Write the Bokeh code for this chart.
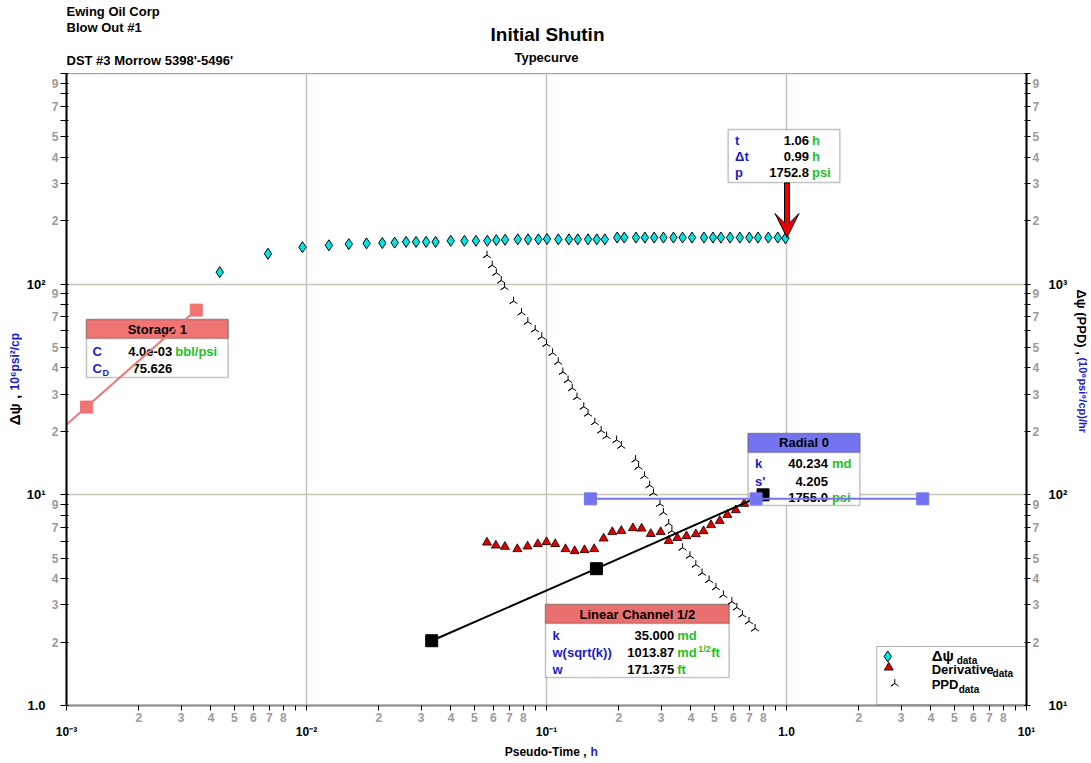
import math
from bokeh.plotting import figure
from bokeh.layouts import column, row
from bokeh.models import (Range1d, LogScale, LogAxis, FixedTicker, CustomJSTickFormatter,
                          BoxAnnotation, Label, Arrow, VeeHead)
from bokeh.embed import file_html
from bokeh.resources import INLINE

# ---------------- data ----------------
t_dpsi = [0.00435, 0.00691, 0.00962, 0.0124, 0.0150, 0.0178, 0.0207, 0.0233, 0.0260, 0.0286,
          0.0315, 0.0345, 0.0399, 0.0455, 0.0508, 0.0567, 0.0618, 0.0672, 0.0759, 0.0838,
          0.0925, 0.1005, 0.112, 0.124, 0.135, 0.149, 0.162, 0.175, 0.197, 0.211,
          0.236, 0.257, 0.281, 0.307, 0.338, 0.369, 0.404, 0.453, 0.494, 0.533,
          0.582, 0.639, 0.700, 0.761, 0.840, 0.920, 0.99]
dpsi = [114.0, 139.4, 149.9, 153.0, 154.9, 156.1, 156.8, 157.5, 158.7, 158.7,
        158.7, 158.7, 160.6, 160.6, 160.6, 160.6, 161.8, 162.5, 163.2, 163.2,
        163.2, 163.9, 163.2, 163.2, 163.2, 163.2, 163.2, 163.2, 166.4, 166.4,
        166.4, 166.4, 166.4, 166.4, 166.4, 166.4, 166.4, 166.4, 166.4, 166.4,
        166.4, 166.4, 166.4, 166.4, 166.4, 166.4, 165.2]

t_der = [0.0565, 0.0615, 0.0671, 0.0756, 0.0834, 0.0920, 0.100, 0.1087, 0.120, 0.131,
         0.144, 0.158, 0.173, 0.188, 0.205, 0.229, 0.249, 0.272, 0.299, 0.323,
         0.351, 0.383, 0.419, 0.451, 0.485, 0.527, 0.567, 0.615, 0.666]
der = [5.94, 5.75, 5.67, 5.53, 5.69, 5.84, 5.97, 5.84, 5.53, 5.41,
       5.47, 5.53, 6.21, 6.66, 6.75, 6.95, 6.92, 6.53, 6.66, 6.05,
       6.25, 6.37, 6.51, 6.73, 7.19, 7.53, 8.04, 8.46, 9.07]

t_ppd = [0.0565, 0.0594, 0.0618, 0.0648, 0.0669, 0.0729, 0.0787, 0.0836, 0.0897, 0.0956,
         0.100, 0.106, 0.112, 0.117, 0.123, 0.128, 0.134, 0.143, 0.149, 0.159,
         0.169, 0.178, 0.196, 0.205, 0.235, 0.242, 0.256, 0.269, 0.279, 0.297,
         0.307, 0.323, 0.333, 0.350, 0.369, 0.396, 0.419, 0.445, 0.476, 0.508,
         0.546, 0.592, 0.621, 0.655, 0.698, 0.740]
ppd = [1372, 1230, 1131, 1041, 968, 831, 734, 663, 610, 563,
       520, 472, 428, 383, 351, 321, 291, 262, 243, 221,
       202, 190, 182, 171, 147, 136, 123, 111, 102, 90.6,
       82.5, 73.1, 67.5, 63.0, 56.1, 51.4, 46.6, 42.6, 39.4, 36.4,
       33.5, 31.1, 29.2, 27.0, 25.1, 23.2]

t_storage = [0.001, 0.001211, 0.003472]
v_storage = [21.55, 26.1, 75.3]
t_linear = [0.03324, 0.1614, 0.7985]
v_linear = [2.03, 4.46, 10.0]
t_radial = [0.1524, 0.7467, 3.695]
v_radial = [9.57, 9.57, 9.57]

x_decades = [0.001, 0.01, 0.1, 1.0, 10.0]
x_decade_labels = ["10\u207b\u00b3", "10\u207b\u00b2", "10\u207b\u00b9", "1.0", "10\u00b9"]
y_decades = [1.0, 10.0, 100.0, 1000.0]
y_decade_labels = ["1.0", "10\u00b9", "10\u00b2", ""]
r_decades = [10.0, 100.0, 1000.0, 10000.0]
r_decade_labels = ["10\u00b9", "10\u00b2", "10\u00b3", ""]
x_minor_labels = ["", "2", "3", "4", "5", "6", "7", "8", ""]
y_minor_labels = ["", "2", "3", "4", "5", "", "7", "", "9"]

# ---------------- layout geometry (page pixels) ----------------
X0, X1 = 1e-3, 10.0
Y0, Y1 = 1.0, 1000.0
R0, R1 = 10.0, 10000.0
TOTAL_W, TOTAL_H = 1090, 760
FL, FT, FW, FH = 66, 73, 962, 632          # frame left/top/width/height on the page
LEFT_W, RIGHT_W, TOP_H, BOT_H = 22, 20, 73, 17
MAIN_W = TOTAL_W - LEFT_W - RIGHT_W
MAIN_H = TOTAL_H - TOP_H - BOT_H
MBL = FL - LEFT_W
MBR = MAIN_W - MBL - FW
MBB = MAIN_H - FH

def fx(px):
    return 10 ** (math.log10(X0) + (px - FL) / FW * (math.log10(X1) - math.log10(X0)))

def fy(py):
    return 10 ** (math.log10(Y0) + (FT + FH - py) / FH * (math.log10(Y1) - math.log10(Y0)))

FONT = "Liberation Sans"
BLUE = "#1c1cc8"
GREEN = "#1fbf1f"

p = figure(width=MAIN_W, height=MAIN_H, x_axis_type="log", y_axis_type="log",
           x_range=Range1d(X0, X1), y_range=Range1d(Y0, Y1),
           output_backend="svg", toolbar_location=None,
           min_border_left=MBL, min_border_right=MBR, min_border_top=0, min_border_bottom=MBB)
p.extra_y_ranges = {"r": Range1d(R0, R1)}
p.extra_y_scales = {"r": LogScale()}
p.outline_line_color = "#a8a8a8"
p.outline_line_width = 1.5
p.background_fill_color = "white"
p.border_fill_color = "white"

FMT_CODE = """
const lt = Math.log10(tick);
for (let i = 0; i < tv.length; i++) {
  if (Math.abs(Math.log10(tv[i]) - lt) < 1e-6) return tl[i];
}
return "";
"""

def minor_ticks(decs, labels):
    tks, labs = [], []
    for d in decs[:-1]:
        for m in range(1, 10):
            tks.append(m * d)
            labs.append(labels[m - 1])
    tks.append(decs[-1])
    labs.append("")
    return tks, labs

def fmt(tks, labels):
    return CustomJSTickFormatter(args=dict(tv=tks, tl=labels), code=FMT_CODE)

def style_inner(ax, tks, labs, line_color, tick_out, tick_in, standoff, size):
    ax.ticker = FixedTicker(ticks=tks)
    ax.formatter = fmt(tks, labs)
    ax.axis_line_color = line_color
    ax.axis_line_width = 2
    ax.major_tick_out = tick_out
    ax.major_tick_in = tick_in
    ax.major_tick_line_color = "black"
    ax.major_tick_line_width = 1
    ax.minor_tick_out = 0
    ax.minor_tick_in = 0
    ax.major_label_standoff = standoff
    ax.major_label_text_font = FONT
    ax.major_label_text_font_style = "bold"
    ax.major_label_text_font_size = size
    ax.major_label_text_color = "#9a9a9a"

def outer_axis(tks, labs, standoff, size, **kw):
    ax = LogAxis(ticker=FixedTicker(ticks=tks), formatter=fmt(tks, labs), **kw)
    ax.axis_line_color = None
    ax.major_tick_out = 0
    ax.major_tick_in = 0
    ax.minor_tick_out = 0
    ax.minor_tick_in = 0
    ax.major_label_standoff = standoff
    ax.major_label_text_font = FONT
    ax.major_label_text_font_style = "bold"
    ax.major_label_text_font_size = size
    ax.major_label_text_color = "black"
    return ax

xt, xl = minor_ticks(x_decades, x_minor_labels)
yt, yl = minor_ticks(y_decades, y_minor_labels)
rt, rl = minor_ticks(r_decades, y_minor_labels)

style_inner(p.xaxis[0], xt, xl, "#8c8c8c", 5, 0, 2, "12px")
style_inner(p.yaxis[0], yt, yl, "black", 6, 2, 2, "12px")
p.add_layout(outer_axis(x_decades, x_decade_labels, 0, "12px"), "below")
p.add_layout(outer_axis(y_decades, y_decade_labels, 3, "13px"), "left")

r_in = LogAxis(y_range_name="r")
style_inner(r_in, rt, rl, "black", 4, 2, 2, "12px")
p.add_layout(r_in, "right")
p.add_layout(outer_axis(r_decades, r_decade_labels, 6, "13px", y_range_name="r"), "right")

p.xgrid[0].ticker = FixedTicker(ticks=[0.01, 0.1, 1.0])
p.ygrid[0].ticker = FixedTicker(ticks=[10.0, 100.0])
for g in (p.xgrid[0], p.ygrid[0]):
    g.grid_line_color = "#c8c4b8"
    g.grid_line_width = 1.5

# ---------------- text panels around the plot ----------------
def text_fig(x0, y0, w, h):
    f = figure(width=w, height=h, x_range=Range1d(x0, x0 + w), y_range=Range1d(-(y0 + h), -y0),
               output_backend="svg", toolbar_location=None, x_axis_location=None,
               y_axis_location=None, min_border=0)
    f.grid.visible = False
    f.outline_line_color = None
    f.background_fill_color = "white"
    f.border_fill_color = "white"
    return f

def tlab(f, px, py, text, color="black", size=13, align="left", baseline="middle", angle=0.0):
    f.add_layout(Label(x=px, y=-py, text=text, text_color=color, text_font_size=f"{size}px",
                       text_align=align, text_baseline=baseline, text_font=FONT,
                       text_font_style="bold", angle=angle))

top = text_fig(0, 0, TOTAL_W, TOP_H)
tlab(top, 66, 11, "Ewing Oil Corp", size=13)
tlab(top, 66, 27, "Blow Out  #1", size=13)
tlab(top, 66, 60, "DST #3 Morrow  5398'-5496'", size=13)
tlab(top, 547, 34, "Initial Shutin", size=19, align="center")
tlab(top, 546, 57, "Typecurve", size=13, align="center")

left = text_fig(0, TOP_H, LEFT_W, MAIN_H)
tlab(left, 14, 446, "\u0394\u03c8 ,", size=15, angle=math.pi / 2)
tlab(left, 14, 409, "10\u2076psi\u00b2/cp", color=BLUE, size=12, angle=math.pi / 2)

right = text_fig(TOTAL_W - RIGHT_W, TOP_H, RIGHT_W, MAIN_H)
tlab(right, 1081, 302, "\u0394\u03c8 (PPD) ,", size=13, angle=-math.pi / 2)
tlab(right, 1082, 374, "(10\u2076psi\u2076/cp)/hr", color=BLUE, size=11, angle=-math.pi / 2)

bottom = text_fig(0, TOP_H + MAIN_H, TOTAL_W, BOT_H)
tlab(bottom, 586, 751, "Pseudo-Time ,", size=12, align="right")
tlab(bottom, 590, 751, "h", color=BLUE, size=12)

# ---------------- annotation boxes inside the plot ----------------
def lab(px, py, text, color="black", size=13, align="left", baseline="middle"):
    p.add_layout(Label(x=fx(px), y=fy(py), text=text, text_color=color,
                       text_font_size=f"{size}px", text_align=align, text_baseline=baseline,
                       text_font=FONT, text_font_style="bold", level="underlay"))

def box(l, r, t, b, fill="white", line="#3c3c3c", lw=1.5):
    p.add_layout(BoxAnnotation(left=fx(l), right=fx(r), top=fy(t), bottom=fy(b),
                               fill_color=fill, fill_alpha=1.0, line_color=line,
                               line_width=lw, level="underlay"))

# flag
box(729, 841, 129, 182)
for yy, a, v, u in [(140, "t", "1.06", "h"), (156, "\u0394t", "0.99", "h"), (172, "p", "1752.8", "psi")]:
    lab(736, yy, a, color=BLUE)
    lab(810, yy, v, align="right")
    lab(813, yy, u, color=GREEN)

# storage
box(86, 228, 319, 377)
box(86, 228, 319, 338, fill="#f07474")
lab(157, 329, "Storage 1", align="center")
lab(92, 351, "C", color=BLUE)
lab(172, 351, "4.0e-03", align="right")
lab(175, 351, "bbl/psi", color=GREEN)
lab(92, 368, "C", color=BLUE)
lab(102, 372, "D", color=BLUE, size=9)
lab(172, 368, "75.626", align="right")

# radial
box(749, 861, 433, 505)
box(749, 861, 433, 452, fill="#7474f0")
lab(805, 442, "Radial 0", align="center")
for yy, a, v, u in [(463, "k", "40.234", "md"), (481, "s'", "4.205", ""), (497, "", "1755.0", "psi")]:
    lab(756, yy, a, color=BLUE)
    lab(829, yy, v, align="right")
    lab(833, yy, u, color=GREEN)

# linear channel
box(546, 730, 604, 677)
box(546, 730, 604, 623, fill="#ea7070")
lab(638, 614, "Linear Channel 1/2", align="center")
lab(553, 635, "k", color=BLUE)
lab(675, 635, "35.000", align="right")
lab(678, 635, "md", color=GREEN)
lab(553, 652, "w(sqrt(k))", color=BLUE)
lab(675, 652, "1013.87", align="right")
lab(678, 652, "md", color=GREEN)
lab(699, 648, "1/2", color=GREEN, size=9)
lab(712, 652, "ft", color=GREEN)
lab(553, 669, "w", color=BLUE)
lab(675, 669, "171.375", align="right")
lab(678, 669, "ft", color=GREEN)

# legend box
box(878, 1028, 646, 704, line="black", lw=1)
lab(933, 655, "\u0394\u03c8", size=15)
lab(958, 660, "data", size=10)
lab(933, 669, "Derivative", size=13)
lab(994, 673, "data", size=10)
lab(933, 684, "PPD", size=13)
lab(960, 689, "data", size=10)

# ---------------- data glyphs ----------------
p.scatter(t_ppd, ppd, y_range_name="r", marker="y", size=9, angle=math.pi,
          line_color="black", line_width=1)
p.scatter(t_der, der, marker="triangle", size=9, fill_color="#e00000", line_color="black",
          line_width=0.8)
p.scatter(t_dpsi, dpsi, marker="diamond", size=11, fill_color="#00e6e6", line_color="black",
          line_width=1)

# legend markers
p.scatter([fx(889)], [fy(656)], marker="diamond", size=11, fill_color="#00e6e6",
          line_color="black", line_width=1)
p.scatter([fx(890)], [fy(667)], marker="triangle", size=9, fill_color="#e00000",
          line_color="black", line_width=0.8)
p.scatter([fx(896)], [fy(683)], marker="y", size=9, angle=math.pi, line_color="black",
          line_width=1)

# model lines
p.line(t_storage, v_storage, line_color="#f07474", line_width=2)
p.scatter(t_storage[1:], v_storage[1:], marker="square", size=12, fill_color="#f07474",
          line_color="#f07474")
p.line(t_linear, v_linear, line_color="black", line_width=2)
p.scatter(t_linear, v_linear, marker="square", size=12, fill_color="black", line_color="black")
p.line(t_radial, v_radial, line_color="#7474f0", line_width=2)
p.scatter(t_radial, v_radial, marker="square", size=12, fill_color="#7474f0",
          line_color="#7474f0")

# flag arrow
p.add_layout(Arrow(end=None, x_start=fx(788), y_start=fy(182), x_end=fx(788), y_end=fy(222),
                   line_color="black", line_width=6))
p.add_layout(Arrow(end=VeeHead(size=24, fill_color="#ee0000", line_color="black", line_width=1),
                   x_start=fx(788), y_start=fy(183), x_end=fx(788), y_end=fy(237),
                   line_color="#ee0000", line_width=4))

layout = column(top, row(left, p, right, spacing=0), bottom, spacing=0)
open("out.html", "w").write(file_html(layout, INLINE))
